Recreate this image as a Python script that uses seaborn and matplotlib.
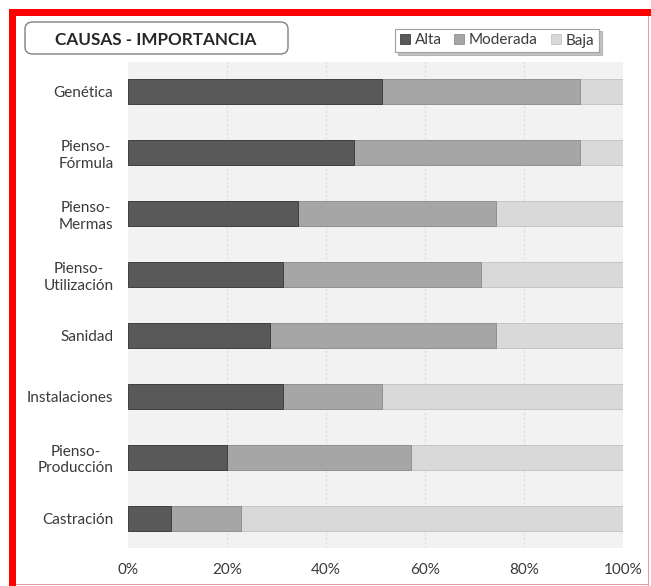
import matplotlib
matplotlib.use("Agg")
import matplotlib.pyplot as plt
from matplotlib.patches import Rectangle, FancyBboxPatch, Patch
import seaborn as sns
import pandas as pd
import numpy as np

categories = ["Genética", "Pienso-\nFórmula", "Pienso-\nMermas", "Pienso-\nUtilización",
              "Sanidad", "Instalaciones", "Pienso-\nProducción", "Castración"]
alta = [51.4, 45.7, 34.3, 31.4, 28.6, 31.4, 20.0, 8.6]
moderada = [40.0, 45.7, 40.0, 40.0, 45.7, 20.0, 37.1, 14.3]
baja = [8.6, 8.6, 25.7, 28.6, 25.7, 48.6, 42.9, 77.1]
series_names = ["Alta", "Moderada", "Baja"]
xticks = [0, 20, 40, 60, 80, 100]
title = "CAUSAS - IMPORTANCIA"

colors = {"Alta": "#595959", "Moderada": "#a6a6a6", "Baja": "#d9d9d9"}
edges = {"Alta": "#404040", "Moderada": "#909090", "Baja": "#c4c4c4"}

sns.set_theme(style="white")
plt.rcParams["font.family"] = ["Lato", "DejaVu Sans"]
txt_color = "#3a3a3a"

df = pd.DataFrame({"cat": categories, "Alta": alta, "Moderada": moderada, "Baja": baja})
df["cum_alta"] = df["Alta"]
df["cum_mod"] = df["Alta"] + df["Moderada"]
df["cum_baja"] = df["cum_mod"] + df["Baja"]

W, H = 651, 586
fig = plt.figure(figsize=(W / 100, H / 100), dpi=100)
fig.patch.set_facecolor("white")
ax = fig.add_axes([128 / W, 1 - 548 / H, (623 - 128) / W, (548 - 62) / H])
ax.set_facecolor("#f2f2f2")

for col, name in [("cum_baja", "Baja"), ("cum_mod", "Moderada"), ("cum_alta", "Alta")]:
    sns.barplot(data=df, x=col, y="cat", orient="h", color=colors[name],
                edgecolor=edges[name], linewidth=0.7, width=0.41, ax=ax,
                saturation=1, order=categories)

ax.set_xlim(0, 100)
ax.set_ylim(7.48, -0.49)
ax.set_xticks(xticks)
ax.set_xticklabels([f"{v}%" for v in xticks])
ax.set_xlabel("")
ax.set_ylabel("")
for v in xticks[1:]:
    ax.axvline(v, color="#dcdcdc", lw=0.8, ls=(0, (2, 2)), zorder=0)
ax.set_axisbelow(True)
for s in ax.spines.values():
    s.set_visible(False)
ax.tick_params(axis="both", length=0, labelsize=11, colors=txt_color)
ax.tick_params(axis="y", pad=10.5)
ax.tick_params(axis="x", pad=11)
for lab in ax.get_yticklabels():
    lab.set_multialignment("center")

# title box
tb = FancyBboxPatch((25 / W, 1 - 54 / H), (288 - 25) / W, (54 - 22) / H,
                    boxstyle="round,pad=0,rounding_size=0.012",
                    transform=fig.transFigure, facecolor="white",
                    edgecolor="#808080", linewidth=1.0)
fig.patches.append(tb)
fig.text(156 / W, 1 - 40 / H, title, ha="center", va="center",
         fontsize=12.3, fontweight="bold", color="#262626")

# legend
handles = [Patch(facecolor=colors[n], edgecolor=edges[n], linewidth=0.6) for n in series_names]
leg = fig.legend(handles, series_names, loc="center", bbox_to_anchor=(497 / W, 1 - 40.5 / H),
                 ncol=3, frameon=True, fontsize=11, handlelength=0.65, handleheight=0.65,
                 handletextpad=0.3, columnspacing=0.85, borderpad=0.32, fancybox=False,
                 shadow={"color": "#9a9a9a", "alpha": 0.6}, edgecolor="#a0a0a0",
                 labelcolor=txt_color)
leg.get_frame().set_linewidth(0.8)

# red border
fig.patches.append(Rectangle((9 / W, 1 - 16 / H), 1 - 9 / W, 7 / H, transform=fig.transFigure,
                             facecolor="#ff0000", edgecolor="none"))
fig.patches.append(Rectangle((9 / W, 0), 7 / W, 1 - 9 / H, transform=fig.transFigure,
                             facecolor="#ff0000", edgecolor="none"))
fig.patches.append(Rectangle((648 / W, 0), 1.2 / W, 1 - 16 / H, transform=fig.transFigure,
                             facecolor="#e89a9a", edgecolor="none"))
fig.patches.append(Rectangle((16 / W, 1 / H), (648 - 16) / W, 1.2 / H, transform=fig.transFigure,
                             facecolor="#e89a9a", edgecolor="none"))

fig.savefig("out.png", dpi=100)
